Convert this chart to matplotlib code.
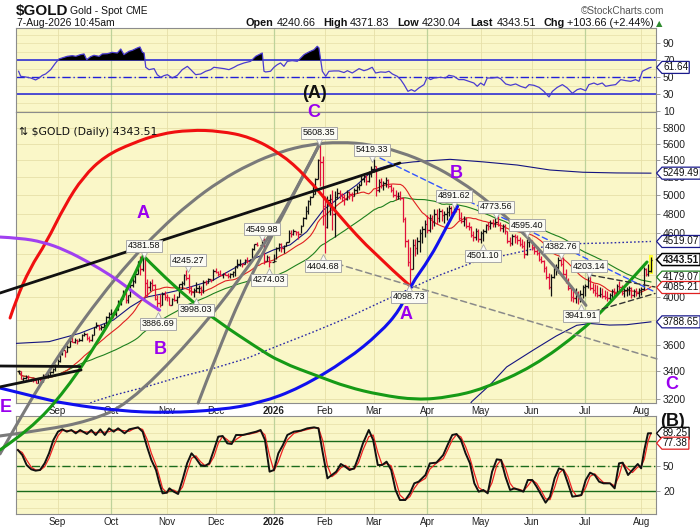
import numpy as np
import pandas as pd
import matplotlib
matplotlib.use("Agg")
import matplotlib.pyplot as plt
import matplotlib.transforms as mtransforms
from matplotlib.path import Path
from matplotlib.patches import PathPatch, Rectangle
from matplotlib.ticker import FixedLocator, FixedFormatter, NullLocator, NullFormatter

nan = float("nan")

# ------------------------------------------------------------------ data
first_day = "2025-08-08"
last_day = "2026-08-07"

high = [3410,
    3400,3360,3370,3375,3346, 3358,3345,3350,3350,3378, 3376,3395,3400,3423,3454,
    3490,3540,3578,3563,3600, 3646,3674,3656,3645,3655, 3686,3703,3697,3671,3686,
    3750,3791,3765,3762,3782, 3835,3872,3895,3875,3889, 3975,3990,4059,4045,4022,
    4117,4180,4218,4326,4379, 4381.58,4360,4161,4148,4160, 4115,4017,4030,4045,4050,
    4030,4000,3994,4028,4010, 4120,4148,4210,4245.27,4212, 4100,4080,4132,4110,4100,
    4155,4157,4170,4165,4256, 4264,4240,4241,4220,4230, 4215,4215,4235,4285,4353,
    4350,4310,4345,4370,4350, 4450,4497,4510,nan,4549.98, 4550,4390,4380,nan,4400,
    4460,4500,4500,4480,4515, 4630,4634,4640,4620,4620, 4690,4770,4888,4950,4990,
    5110,5190,5420,5608.35,5450, 4990,4990,5010,5064,5045, 5080,5060,5030,5010,5060,
    5050,5040,5080,5120,5140, 5230,5250,5230,5270,5330, 5419.33,5330,5180,5190,5160,
    5200,5180,5130,5090,5060, 5040,5050,4980,4770,4540, 4460,4540,4540,4560,4640,
    4680,4740,4790,4800,4790, 4850,4850,4860,4850,4830, 4870,4900,4890,4880,4891.62,
    4860,4820,4780,4770,4720, 4680,4620,4650,4640,4620, 4640,4700,4720,4740,4750,
    4760,4773.56,4720,4700,4700, 4620,4560,4590,4595.40,4580, 4560,4540,4520,4540,4560,
    4530,4490,4470,4430,4380, 4340,4280,4220,4210,4270, 4300,4370,4382.76,4370,4250,
    4170,4110,4060,4080,4050, 4060,4110,4120,4203.14,4190, 4130,4120,4110,4090,4080,
    4060,4050,4040,4070,4080, 4120,4140,4110,4080,4090, 4100,4090,4070,4080,4080,
    4090,4270,4260,4300,4371.83]

low = [3380,
    3340,3330,3340,3330,3325, 3323,3311,3311,3330,3322, 3350,3351,3375,3385,3400,
    3436,3470,3525,3511,3545, 3585,3621,3620,3612,3630, 3634,3675,3640,3628,3633,
    3680,3736,3718,3723,3740, 3758,3794,3848,3820,3838, 3885,3935,3982,3945,3946,
    4004,4092,4125,4205,4200, 4235,4004,4004,4057,4064, 3972,3886.69,3915,3930,3974,
    3962,3930,3928,3970,3950, 4000,4075,4110,4150,4032, 4020,3998.03,4043,4040,4022,
    4040,4110,4128,4135,4150, 4220,4185,4190,4175,4195, 4170,4170,4180,4192,4265,
    4280,4270,4300,4310,4315, 4340,4440,4470,nan,4480, 4300,4330,4274.03,nan,4320,
    4345,4430,4420,4410,4470, 4510,4560,4580,4580,4540, 4600,4670,4750,4800,4900,
    4985,5010,5180,5100,4690, 4404.68,4650,4790,4630,4560, 4960,4960,4940,4900,4950,
    4960,4940,4990,5030,5060, 5120,5150,5120,5150,5200, 5260,4990,5040,5080,5060,
    5090,5080,5040,4980,4950, 4960,4950,4720,4460,4280, 4098.73,4250,4380,4400,4420,
    4500,4560,4600,4610,4640, 4680,4700,4720,4730,4710, 4740,4780,4790,4800,4820,
    4740,4710,4680,4650,4630, 4560,4520,4530,4510,4501.10, 4520,4600,4630,4640,4660,
    4660,4670,4620,4610,4590, 4500,4470,4480,4500,4490, 4470,4450,4360,4390,4460,
    4440,4400,4390,4330,4310, 4230,4160,4070,4010,4170, 4200,4220,4280,4190,4130,
    4060,3970,3960,3950,3941.91, 3960,3990,4010,4080,4060, 4040,4010,4000,4000,3990,
    3980,3970,3975,3980,4000, 4030,4050,4020,4000,4010, 4020,3990,4000,4010,4000,
    4020,4060,4190,4190,4230.04]

close = [3398,
    3344,3348,3356,3336,3336, 3332,3315,3347,3339,3372, 3365,3393,3397,3416,3448,
    3476,3533,3560,3545,3586, 3636,3626,3640,3634,3643, 3679,3689,3660,3643,3685,
    3746,3764,3736,3749,3760, 3833,3858,3866,3857,3886, 3960,3985,4040,3976,4017,
    4110,4143,4209,4326,4251, 4356,4125,4094,4126,4112, 3982,3952,3930,4025,4002,
    4000,3932,3980,3977,4000, 4115,4128,4195,4172,4080, 4045,4067,4077,4077,4065,
    4137,4130,4163,4157,4240, 4230,4205,4200,4208,4197, 4189,4208,4230,4279,4300,
    4305,4303,4339,4330,4338, 4444,4490,4480,nan,4532, 4332,4370,4320,nan,4330,
    4450,4495,4455,4477,4510, 4600,4590,4625,4615,4595, 4670,4760,4835,4935,4985,
    5010,5180,5400,5380,4890, 4660,4950,4960,4800,4980, 5030,5010,4980,4960,5040,
    5020,4990,5060,5090,5110, 5180,5220,5160,5240,5300, 5330,5060,5150,5110,5140,
    5170,5100,5060,5000,4990, 4990,4970,4750,4520,4320, 4250,4480,4450,4520,4600,
    4640,4700,4630,4760,4720, 4800,4760,4830,4790,4800, 4820,4860,4820,4860,4850,
    4760,4730,4750,4680,4660, 4580,4560,4620,4540,4600, 4620,4690,4680,4710,4700,
    4720,4690,4650,4680,4620, 4520,4500,4570,4560,4530, 4490,4470,4400,4510,4520,
    4460,4430,4410,4350,4330, 4260,4180,4090,4180,4250, 4270,4340,4300,4210,4150,
    4080,4000,3990,4040,3990, 4030,4090,4100,4180,4080, 4060,4040,4020,4030,4010,
    4000,3990,4020,4050,4040, 4100,4090,4040,4060,4070, 4080,4020,4050,4040,4060,
    4070,4250,4210,4239.85,4343.51]

ma_fast_len = 20
ma_slow_len = 50

# Bollinger band (200 day): (bar number, price)
bb_upper = [(-1,3614),(12.6,3628),(25.2,3695),(39,3804),(45.9,3914),(52.7,4001),(59.6,4030),
            (66.4,4063),(73.2,4107),(80.1,4153),(91,4292),(104.8,4436),(111.6,4485),(118.5,4617),
            (125.3,4842),(132.2,4983),(139,5115),(145.9,5286),(152.7,5344),(156.8,5362),(162.3,5381),
            (177.4,5411),(191,5381),(205,5344),(218.5,5286),(232,5260),(245.9,5252),(260,5249.49)]
bb_mid = [(28,3160),(30.7,3180),(39,3225),(52.7,3287),(66.4,3359),(80.1,3421),(93.8,3497),(107.5,3601),
          (121.2,3706),(134.9,3820),(148.6,3953),(162.3,4088),(173.3,4199),(187,4317),(200.7,4388),
          (214.4,4460),(222.6,4494),(241.8,4504),(260,4519.07)]
bb_lower = [(184.5,3130),(186.3,3180),(193.8,3299),(200.7,3432),(211.7,3562),(221,3672),(229.5,3760),
            (235,3775),(243,3762),(250,3765),(260,3788.65)]

rsi_pts = [(0,57.1),(0.85,51.2),(2.9,50.4),(5.0,49.2),(7.0,46.9),(8.4,49.2),(9.8,52.4),(11.1,53.9),
    (13.2,59.0),(15.2,66.9),(16.6,71.6),(18.7,73.5),(20.0,74.7),(22.1,75.5),(23.5,74.7),(25.5,76.7),
    (26.9,77.5),(28.0,70.8),(29.6,74.3),(31.0,75.9),(33.1,74.7),(34.4,77.5),(36.5,77.8),(38.5,79.4),
    (40.6,78.6),(42.0,83.3),(43.3,76.7),(45.4,80.6),(46.8,81.8),(48.8,84.5),(49.9,85.7),(50.9,79.4),
    (51.6,78.6),(52.3,61.8),(53.6,59.0),(55.7,60.2),(57.0,53.1),(58.4,50.0),(59.8,52.0),(61.2,53.1),
    (63.2,49.2),(65.3,52.4),(67.3,59.0),(69.4,62.9),(70.8,59.0),(72.8,53.1),(74.9,53.9),(76.9,57.1),
    (79.0,59.0),(80.3,61.8),(82.4,61.0),(84.5,60.2),(86.5,59.0),(88.6,61.8),(90.0,64.1),(92.7,66.9),
    (95.4,68.8),(97.5,74.7),(100.2,78.6),(100.9,57.1),(101.6,56.3),(103.6,57.1),(105.0,61.8),
    (106.4,64.9),(107.7,66.9),(109.1,62.9),(110.5,68.8),(112.5,69.6),(114.6,68.8),(116.0,72.7),
    (117.4,76.7),(119.4,79.8),(121.5,82.5),(122.8,86.5),(123.5,84.5),(124.2,70.8),(124.9,57.1),
    (126.3,51.2),(127.6,57.1),(129.7,57.5),(131.7,57.5),(133.8,55.6),(135.2,57.8),(137.2,55.1),
    (140.0,60.2),(142.0,57.8),(143.4,59.0),(145.4,61.8),(146.8,55.1),(148.9,56.3),(150.9,55.9),
    (152.3,57.1),(153.7,53.9),(155.7,51.2),(157.1,47.3),(158.5,41.4),(160.1,33.5),(161.5,35.5),
    (162.9,33.5),(164.6,37.5),(166.7,41.4),(168.0,50.0),(169.4,47.3),(170.8,49.2),(173.5,50.0),
    (175.6,49.2),(176.9,52.4),(179.0,51.2),(181.0,47.3),(183.1,47.3),(185.2,45.3),(187.2,43.3),
    (188.6,39.4),(190.0,43.3),(191.4,40.6),(192.7,49.2),(194.8,49.2),(196.9,50.0),(198.2,48.4),
    (200.3,42.2),(202.3,40.6),(204.4,42.2),(206.4,39.4),(208.5,37.5),(209.9,41.4),(211.9,40.6),
    (214.0,38.2),(216.0,33.5),(218.1,26.9),(219.5,33.5),(221.5,38.2),(223.6,41.4),(225.6,37.5),
    (227.7,31.2),(229.7,35.5),(231.1,36.7),(233.2,34.3),(234.5,41.4),(236.6,43.3),(238.0,41.4),
    (240.0,43.3),(241.4,39.4),(243.5,40.6),(245.5,41.4),(247.6,47.3),(249.6,46.1),(251.7,45.3),
    (253.7,47.3),(255.1,45.3),(256.5,57.1),(257.8,59.0),(259.2,61.0),(260.0,61.64)]

stoch_pts = [(-0.3,69.2),(1.5,63.2),(3.3,51.2),(5.2,46.0),(7.0,44.4),(8.8,45.2),(10.7,53.2),(12.5,65.2),
    (14.3,81.2),(16.2,91.2),(18.0,94.0),(19.8,91.2),(21.7,93.2),(23.5,89.2),(25.3,93.2),(28.1,88.4),
    (29.9,93.2),(31.7,87.2),(33.6,94.0),(35.4,87.2),(37.2,95.2),(39.1,91.2),(40.9,95.2),(43.6,89.2),
    (45.5,94.0),(47.3,95.2),(49.1,96.4),(51.0,91.2),(52.8,73.2),(54.6,57.2),(56.5,45.2),(57.9,29.2),
    (59.2,17.2),(61.0,18.0),(62.0,23.2),(63.8,19.2),(65.6,16.4),(67.4,33.2),(69.3,53.2),(71.1,65.2),
    (72.9,59.2),(74.8,51.2),(76.6,50.0),(78.4,53.2),(80.3,69.2),(82.1,85.2),(83.9,86.0),(85.8,77.2),
    (87.6,76.4),(89.4,87.2),(92.2,87.2),(94.9,89.2),(97.7,91.2),(99.5,93.2),(101.3,81.2),(103.2,43.2),
    (105.0,45.2),(106.8,65.2),(108.7,75.2),(110.5,87.2),(113.2,91.2),(116.0,92.4),(118.7,95.2),
    (121.5,96.4),(123.3,95.2),(125.1,65.2),(127.0,35.2),(128.8,39.2),(130.6,43.2),(132.5,52.4),
    (134.3,49.2),(136.1,45.2),(138.0,47.2),(139.8,61.2),(141.6,77.2),(144.0,93.2),(145.8,81.2),
    (147.7,51.2),(149.5,51.2),(151.3,55.2),(153.2,45.2),(155.0,21.2),(156.8,9.2),(159.0,9.2),
    (160.9,17.2),(162.7,29.2),(164.5,31.2),(167.3,39.2),(169.1,53.2),(171.8,54.0),(174.6,63.2),
    (176.4,75.2),(178.3,87.2),(180.1,88.4),(181.9,81.2),(183.8,65.2),(185.6,53.2),(187.4,29.2),
    (189.2,19.2),(191.1,21.2),(192.9,17.2),(194.7,43.2),(196.6,58.0),(198.4,57.2),(200.2,37.2),
    (202.1,21.2),(203.9,23.2),(205.7,21.2),(207.6,19.2),(209.4,33.2),(211.2,33.2),(213.0,25.2),
    (214.9,15.2),(216.7,6.0),(218.5,13.2),(220.4,35.2),(222.2,47.2),(224.0,45.2),(225.9,29.2),
    (227.7,13.2),(229.5,14.0),(231.4,15.2),(233.2,33.2),(235.0,42.0),(236.9,39.2),(238.7,31.2),
    (240.5,29.2),(243.2,29.2),(245.1,23.2),(246.9,53.2),(248.4,54.0),(250.6,39.2),(252.4,45.2),
    (254.6,52.4),(256.0,47.2),(257.3,69.2),(258.8,89.2),(260.0,89.25)]

month_starts = ["2025-09-01","2025-10-01","2025-11-03","2025-12-01","2026-01-02","2026-02-02",
                "2026-03-02","2026-04-01","2026-05-01","2026-06-01","2026-07-01","2026-08-03"]
month_labels = ["Sep","Oct","Nov","Dec","2026","Feb","Mar","Apr","May","Jun","Jul","Aug"]
quarter_labels = ["Oct","2026","Apr","Jul"]

price_ticks = list(range(3200, 5801, 200))
price_ticks_hidden = [4400, 4200, 3800]     # covered by the value tags on the chart
rsi_ticks = [10, 30, 50, 70, 90]
stoch_ticks = [20, 50]

# annotation drawings: (bar number, price)
red_arc = [(-3.5,3821),(-1.07,3975),(4.7,4264),(11.3,4504),(19.1,4896),(26.5,5206),(35.5,5451),
           (47.0,5609),(58.1,5721),(70.5,5771),(82.8,5758),(95.2,5683),(107.5,5487),(118.2,5218),
           (132.2,4768),(145.8,4407),(161,4099)]
purple_arc = [(-7.65,4563),(0.6,4553),(10.0,4514),(19.1,4436),(29.4,4311),(37.6,4199),(44.6,4090),
              (51.2,3975),(58,3887)]
blue_arc = [(-7.65,3277),(8.8,3206),(19.9,3164),(41.7,3116),(61.0,3103),(82.8,3123),(99.3,3171),
            (115.7,3277),(135.0,3485),(148.6,3698),(156.8,3889),(161,4099),(169.2,4358),(175.3,4634),
            (180.5,4880)]
green_arc_right = [(51.3,4380),(56.9,4245),(70.5,3975),(82.8,3779),(97.6,3586),(107.5,3470),(123.9,3358),
                   (135.0,3285),(148.6,3228),(163.8,3192),(177.4,3213),(191.0,3270),(211.5,3432),
                   (232.1,3722),(244.4,3975),(258.4,4320)]
green_arc_left = [(-7.65,2861),(4.7,2989),(19.5,3263),(33.1,3641),(44.2,4036),(51.3,4380)]
gray_dome = [(-7.65,2836),(0.58,3065),(10.0,3334),(21.1,3651),(33.5,3998),(45.8,4329),(58.1,4639),
             (70.5,4920),(82.8,5162),(95.2,5357),(107.5,5502),(119.8,5592),(132.2,5621),(144.5,5592),
             (156.8,5502),(169.2,5357),(181.5,5162),(193.8,4920),(206.2,4639),(218.5,4329),
             (226.7,4110),(233.3,3928)]
gray_arc_b = [(-7.65,2950),(10.9,2989),(28.95,3048),(44.6,3157),(70.5,3625),(93.9,4245),(109.5,4821),(124,5608)]
gray_arc_c = [(73.85,3171),(75.8,3263),(91.0,4001),(108.7,4790),(124,5608)]
black_trend = [(-7.65,4036),(156.8,5368)]
black_flat = [(-7.65,3439),(25.25,3435)]
black_rise = [(-7.65,3285),(25.7,3409)]
blue_dash = [(148.6,5427),(261.7,4045)]
gray_dash = [(127,4330),(262.5,3493)]
black_dash_hi = [(235.0,4199),(261.7,4090)]
black_dash_lo = [(232.9,3855),(261.7,4032)]

# value call-outs: (text, bar number, price of box centre, points to 'hi' or 'lo')
price_labels = [("4381.58",51.5,4475,"hi"),("4245.27",69.5,4339,"hi"),("3886.69",57.3,3771,"lo"),
                ("3998.03",72.8,3889,"lo"),("4549.98",100.1,4644,"hi"),("4274.03",103.1,4153,"lo"),
                ("5608.35",123.6,5733,"hi"),("4404.68",125.2,4282,"lo"),("5419.33",145.3,5523,"hi"),
                ("4098.73",160.5,4001,"lo"),("4891.62",179.1,4994,"hi"),("4773.56",196.3,4874,"hi"),
                ("4595.40",209.0,4685,"hi"),("4501.10",191.0,4378,"lo"),("4382.76",222.9,4465,"hi"),
                ("4203.14",234.5,4282,"hi"),("3941.91",231.1,3838,"lo")]
wave_labels = [("A",51.2,4810),("B",58.1,3562),("C",121.5,5990),("A",159.3,3847),("B",179.9,5251),
               ("C",268.7,3299),("E",-5.3,3137)]

main_tags = [(5249.49,"#1A1A8C",False),(4519.07,"#1A1A8C",False),(4343.51,"#000000",True),
             (4179.07,"#1E801E",False),(4085.21,"#E02020",False),(3788.65,"#1A1A8C",False)]
rsi_tags = [(61.64,"#1A1A8C")]
stoch_tags = [(89.25,"#000000"),(77.38,"#E02020")]

quote = [("Open",True,246),("4240.66",False,277),("High",True,323),("4371.83",False,350),
         ("Low",True,397),("4230.04",False,422),("Last",True,470),("4343.51",False,497),
         ("Chg",True,543),("+103.66 (+2.44%)",False,567)]

# ------------------------------------------------------------------ styles
BG = "#FAF7C8"
GCOL = "#E6E0A8"
QCOL = "#BDD29A"
SPINE = "#8C8C8C"
plt.rcParams["font.family"] = ["Liberation Sans", "DejaVu Sans"]

dates = pd.bdate_range(first_day, last_day)
H = np.array(high, float)
Lo = np.array(low, float)
C = np.array(close, float)
n = min(len(dates), len(H), len(Lo), len(C))
H, Lo, C = H[:n], Lo[:n], C[:n]
x = np.arange(n)

fig = plt.figure(figsize=(7.0, 5.3), dpi=100)
fig.patch.set_facecolor("white")
FW, FH = 700.0, 530.0


def rect(l, t, r, b):
    return [l / FW, 1 - b / FH, (r - l) / FW, (b - t) / FH]


ax_r = fig.add_axes(rect(16, 28, 656, 112))
ax_m = fig.add_axes(rect(16, 112, 656, 403))
ax_s = fig.add_axes(rect(16, 416, 656, 514))
ax_m.set_zorder(5)
ax_r.set_zorder(3)
ax_s.set_zorder(2)

XMIN, XMAX = -1.07, 262.1
mpos = dates.get_indexer(pd.to_datetime(month_starts))

for a in (ax_r, ax_m, ax_s):
    a.set_facecolor(BG)
    for sp in a.spines.values():
        sp.set_color(SPINE)
        sp.set_linewidth(0.8)
    a.yaxis.tick_right()
    for p, lab in zip(mpos, month_labels):
        if lab in quarter_labels:
            a.axvline(p, color=QCOL, lw=0.9, zorder=0.5)
        else:
            a.axvline(p, color=GCOL, lw=0.6, zorder=0.5)

# ---- main price panel
ax_m.set_yscale("log")
for t in price_ticks:
    ax_m.axhline(t, color=GCOL, lw=0.6, zorder=0.4)

cs = pd.Series(C)
ma_fast = cs.rolling(ma_fast_len, min_periods=1).mean()
ma_slow = cs.rolling(ma_slow_len, min_periods=1).mean()


def xy(pts):
    return [p[0] for p in pts], [p[1] for p in pts]


bx, by = xy(bb_upper)
ax_m.plot(bx, by, color="#141480", lw=0.8, zorder=3)
bx, by = xy(bb_lower)
ax_m.plot(bx, by, color="#141480", lw=0.8, zorder=3)
bx, by = xy(bb_mid)
ax_m.plot(bx, by, color="#2A2AA8", lw=1.0, ls=(0, (1.2, 1.6)), zorder=3)
ax_m.plot(x, ma_slow, color="#1E801E", lw=0.8, zorder=3)
ax_m.plot(x, ma_fast, color="#E02020", lw=0.8, zorder=3)

valid = ~np.isnan(C)
prevC = pd.Series(C).ffill().shift(1).to_numpy()
prevC[0] = C[0]
O = prevC
up = C >= prevC
cols = np.where(up, "#111111", "#E0103A")
m = valid
ax_m.add_patch(Rectangle((n - 1 - 0.8, Lo[-1] * 0.994), 1.6, H[-1] * 1.003 - Lo[-1] * 0.994,
                         facecolor="#FFFF30", edgecolor="none", zorder=3.5))
ax_m.vlines(x[m], Lo[m], H[m], colors=cols[m], lw=0.9, zorder=4)
ax_m.hlines(O[m], x[m] - 0.6, x[m], colors=cols[m], lw=0.9, zorder=4)
ax_m.hlines(C[m], x[m], x[m] + 0.6, colors=cols[m], lw=0.9, zorder=4)


def draw_curve(a, pts, color, lw, ls="-", z=6):
    xs = np.array([p[0] for p in pts], float)
    ys = np.log10(np.array([p[1] for p in pts], float))
    verts = [(xs[0], ys[0])]
    codes = [Path.MOVETO]
    if len(xs) == 2:
        verts.append((xs[1], ys[1]))
        codes.append(Path.LINETO)
    else:
        for i in range(1, len(xs) - 1):
            if i < len(xs) - 2:
                end = ((xs[i] + xs[i + 1]) / 2, (ys[i] + ys[i + 1]) / 2)
            else:
                end = (xs[i + 1], ys[i + 1])
            verts += [(xs[i], ys[i]), end]
            codes += [Path.CURVE3, Path.CURVE3]
    verts = [(vx, 10 ** vy) for vx, vy in verts]
    a.add_patch(PathPatch(Path(verts, codes), fill=False, edgecolor=color, lw=lw, ls=ls,
                          clip_on=False, zorder=z, capstyle="round", joinstyle="round"))


ARC = 2.2
draw_curve(ax_m, gray_dome, "#7A7A7A", ARC)
draw_curve(ax_m, gray_arc_b, "#7A7A7A", ARC)
draw_curve(ax_m, gray_arc_c, "#7A7A7A", ARC)
draw_curve(ax_m, red_arc, "#F01010", ARC)
draw_curve(ax_m, purple_arc, "#A040F0", ARC)
draw_curve(ax_m, blue_arc, "#1010EE", ARC)
draw_curve(ax_m, green_arc_right, "#169A16", ARC)
draw_curve(ax_m, green_arc_left, "#169A16", ARC)
draw_curve(ax_m, black_trend, "#111111", 2.0)
draw_curve(ax_m, black_flat, "#111111", 2.0)
draw_curve(ax_m, black_rise, "#111111", 2.0)
draw_curve(ax_m, blue_dash, "#3355FF", 1.0, ls=(0, (4, 2.5)))
draw_curve(ax_m, gray_dash, "#8A8A8A", 1.1, ls=(0, (4, 2.5)))
draw_curve(ax_m, black_dash_hi, "#333333", 1.0, ls=(0, (4, 2.5)))
draw_curve(ax_m, black_dash_lo, "#333333", 1.0, ls=(0, (4, 2.5)))

for txt, px, py, kind in price_labels:
    ax_m.text(px, py, txt, fontsize=6.5, ha="center", va="center", zorder=8, color="#111111",
              bbox=dict(boxstyle="square,pad=0.2", fc="#FBFBF4", ec="#A8A8A8", lw=0.7))
    off = -6.2 if kind == "hi" else 6.2
    ax_m.plot([px], [py], marker="v" if kind == "hi" else "^", ms=4.5, mfc="#FBFBF4", mec="#A8A8A8",
              mew=0.6, zorder=7.9, transform=ax_m.transData + mtransforms.ScaledTranslation(
                  0, off / 72.0, fig.dpi_scale_trans), clip_on=False)
for txt, px, py in wave_labels:
    ax_m.text(px, py, txt, fontsize=13, fontweight="bold", color="#9A00EE", ha="center",
              va="center", zorder=9, clip_on=False)

ax_m.text((19 - 16) / 640.0, (403 - 132) / 291.0, "\u21c5 $GOLD (Daily) 4343.51", transform=ax_m.transAxes,
          fontsize=7.8, family="DejaVu Sans", ha="left", va="center", color="#111111", zorder=9)

ax_m.set_xlim(XMIN, XMAX)
ax_m.set_ylim(3171, 6003)
ax_m.yaxis.set_major_locator(FixedLocator(price_ticks))
ax_m.yaxis.set_major_formatter(FixedFormatter(["" if t in price_ticks_hidden else str(t) for t in price_ticks]))
ax_m.yaxis.set_minor_locator(NullLocator())
ax_m.yaxis.set_minor_formatter(NullFormatter())

# ---- RSI panel
for v in range(10, 101, 10):
    ax_r.axhline(v, color=GCOL, lw=0.5, zorder=0.4)
ax_r.axhline(70, color="#2020D8", lw=1.1, zorder=2)
ax_r.axhline(30, color="#2020D8", lw=1.1, zorder=2)
ax_r.axhline(50, color="#2020D8", lw=1.0, ls=(0, (6, 2, 1, 2)), zorder=2)
rx, rv = xy(rsi_pts)
rx = np.array(rx)
rv = np.array(rv)
ax_r.fill_between(rx, rv, 70, where=rv > 70, interpolate=True, color="black", lw=0, zorder=2.5)
ax_r.plot(rx, rv, color="#4A3CD0", lw=0.9, zorder=3)
ax_r.text(121.5, 31.5, "(A)", fontsize=13, fontweight="bold", ha="center", va="center",
          color="#111111", zorder=9)
ax_r.set_xlim(XMIN, XMAX)
ax_r.set_ylim(9.2, 108)
ax_r.set_xticks([])
ax_r.set_yticks(rsi_ticks)
ax_r.set_yticklabels([str(t) for t in rsi_ticks])

# ---- stochastic panel
for v in range(0, 101, 10):
    ax_s.axhline(v, color=GCOL, lw=0.5, zorder=0.4)
ax_s.axhline(80, color="#1B6B1B", lw=1.0, zorder=2)
ax_s.axhline(20, color="#1B6B1B", lw=1.0, zorder=2)
ax_s.axhline(50, color="#1B6B1B", lw=1.0, ls=(0, (6, 2, 1, 2)), zorder=2)
sx, sk = xy(stoch_pts)
sd = pd.Series(sk).rolling(2, min_periods=1).mean()
ax_s.plot(sx, sd, color="#EE2222", lw=0.9, zorder=3)
ax_s.plot(sx, sk, color="#111111", lw=1.4, zorder=4)
ax_s.text(268.7, 104, "(B)", fontsize=13, fontweight="bold", ha="center", va="center",
          color="#111111", zorder=9, clip_on=False)
ax_s.set_xlim(XMIN, XMAX)
ax_s.set_ylim(-7.6, 110)
ax_s.set_yticks(stoch_ticks)
ax_s.set_yticklabels([str(t) for t in stoch_ticks])

for a in (ax_r, ax_m, ax_s):
    a.tick_params(axis="y", which="major", labelsize=7.5, length=3, width=0.6, color=SPINE,
                  labelcolor="#222222", pad=2)
for a in (ax_m, ax_s):
    a.set_xticks(mpos)
    a.set_xticklabels(month_labels)
    a.tick_params(axis="x", length=0, labelsize=7, pad=2.5, labelcolor="#222222")
    for t in a.get_xticklabels():
        if t.get_text() == "2026":
            t.set_fontweight("bold")


# ---- right-hand value tags
def tag_box(x0, y0, width, height, mutation_size):
    pad = mutation_size * 0.1
    x0, y0 = x0 - pad, y0 - pad
    x1, y1 = x0 + width + 2 * pad, y0 + height + 2 * pad
    tip = (y1 - y0) * 0.45
    return Path([(x0, y0), (x1, y0), (x1, y1), (x0, y1), (x0 - tip, (y0 + y1) / 2), (x0, y0)], closed=True)


TAGX = (663 - 16) / 640.0


def right_tag(a, val, color, bold=False):
    tr = mtransforms.blended_transform_factory(a.transAxes, a.transData)
    a.text(TAGX, val, "%.2f" % val, transform=tr, ha="left", va="center", fontsize=7.2,
           fontweight="bold" if bold else "normal", color="#111111", clip_on=False, zorder=10,
           bbox=dict(boxstyle=tag_box, fc="white", ec=color, lw=1.1 if bold else 0.9))


for val, col, b in main_tags:
    right_tag(ax_m, val, col, b)
for val, col in rsi_tags:
    right_tag(ax_r, val, col)
for val, col in stoch_tags:
    right_tag(ax_s, val, col)


# ---- header
def ftext(px, py, s, **kw):
    fig.text(px / FW, 1 - py / FH, s, va="baseline", **kw)


ftext(16, 15.5, "$GOLD", fontsize=11, fontweight="bold", color="#111111")
ftext(70, 14.5, "Gold - Spot", fontsize=7.5, color="#111111")
ftext(126, 14.5, "CME", fontsize=7.2, color="#111111")
ftext(17, 26, "7-Aug-2026 10:45am", fontsize=7.5, color="#111111")
ftext(664, 14, "\u00a9StockCharts.com", fontsize=7.2, color="#555555", ha="right")
for s, b, px in quote:
    ftext(px, 26, s, fontsize=7.8, fontweight="bold" if b else "normal", color="#111111")
ftext(656, 26, "\u25b2", fontsize=6, family="DejaVu Sans", color="#2E8B2E")

fig.savefig("out.png", dpi=100, facecolor="white")
